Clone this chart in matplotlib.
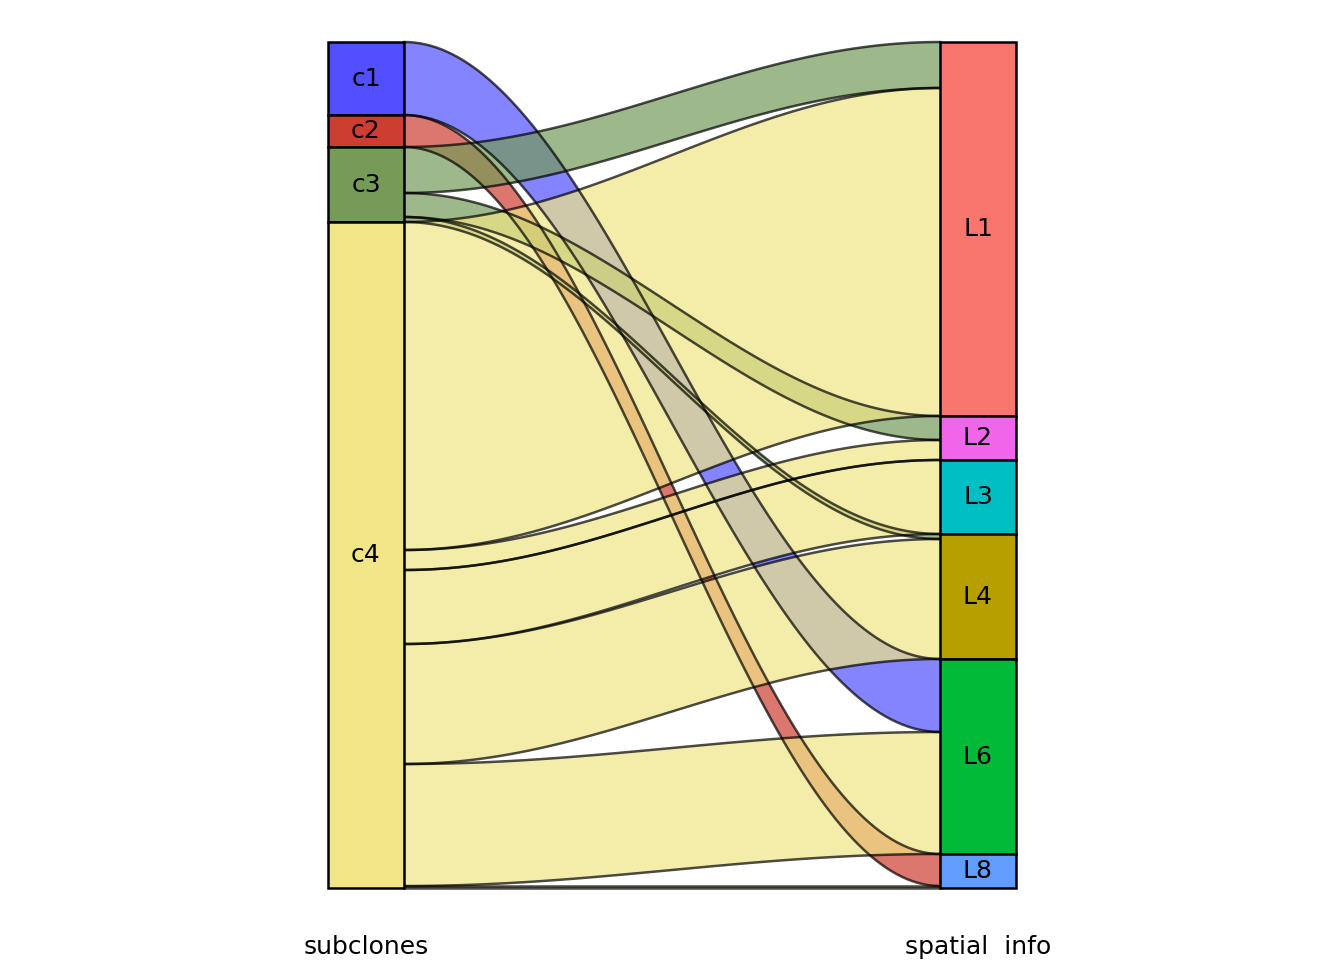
import matplotlib
matplotlib.use("Agg")
import matplotlib.pyplot as plt
import numpy as np
from matplotlib.patches import Rectangle, Polygon

subclones = ["c1", "c2", "c3", "c4"]
spatial = ["L1", "L2", "L3", "L4", "L6", "L8"]
sub_colors = ["#5050FF", "#CE3D32", "#749B58", "#F0E685"]
sp_colors = ["#F8766D", "#F066EA", "#00BFC4", "#B79F00", "#00BA38", "#619CFF"]
# flows: (source, target, count)
flows = [("c1", "L6", 73), ("c2", "L8", 32), ("c3", "L1", 46), ("c3", "L2", 24),
         ("c3", "L4", 5), ("c4", "L1", 328), ("c4", "L2", 20), ("c4", "L3", 74),
         ("c4", "L4", 120), ("c4", "L6", 122), ("c4", "L8", 2)]

fig = plt.figure(figsize=(13.44, 9.6), dpi=100)
ax = fig.add_axes([0, 0, 1, 1])
xl = 1 - 366 / 612
ax.set_xlim(xl, xl + 1344 / 612)
total = sum(f[2] for f in flows)
ax.set_ylim(-72, total + 42)
ax.axis("off")
w = 76 / 612 / 2

def tops(names, idx):
    sizes = {n: sum(f[2] for f in flows if f[idx] == n) for n in names}
    t, out = total, {}
    for n in names:
        out[n] = (t, sizes[n]); t -= sizes[n]
    return out

ls = tops(subclones, 0)
rs = tops(spatial, 1)
lcur = {n: ls[n][0] for n in subclones}
rcur = {n: rs[n][0] for n in spatial}
lpos, rpos = {}, {}
order_l = sorted(range(len(flows)), key=lambda i: (subclones.index(flows[i][0]), spatial.index(flows[i][1])))
for i in order_l:
    s, t, v = flows[i]
    lpos[i] = lcur[s]; lcur[s] -= v
order_r = sorted(range(len(flows)), key=lambda i: (spatial.index(flows[i][1]), subclones.index(flows[i][0])))
for i in order_r:
    s, t, v = flows[i]
    rpos[i] = rcur[t]; rcur[t] -= v

x0, x1 = 1 + w, 2 - w
xs = np.linspace(x0, x1, 100)
sm = (1 - np.cos(np.pi * (xs - x0) / (x1 - x0))) / 2
for i, (s, t, v) in enumerate(flows):
    ytop = lpos[i] + (rpos[i] - lpos[i]) * sm
    ybot = ytop - v
    col = sub_colors[subclones.index(s)]
    poly = np.vstack([np.column_stack([xs, ytop]), np.column_stack([xs[::-1], ybot[::-1]])])
    ax.add_patch(Polygon(poly, closed=True, facecolor=col, alpha=0.7, edgecolor="none", zorder=2))
    ax.plot(xs, ytop, color="black", alpha=0.7, lw=1.8, zorder=3)
    ax.plot(xs, ybot, color="black", alpha=0.7, lw=1.8, zorder=3)

for names, st, cols, xc in [(subclones, ls, sub_colors, 1), (spatial, rs, sp_colors, 2)]:
    for n, c in zip(names, cols):
        top, size = st[n]
        ax.add_patch(Rectangle((xc - w, top - size), 2 * w, size, facecolor=c,
                               edgecolor="black", lw=1.8, zorder=4))
        ax.text(xc, top - size / 2, n, ha="center", va="center", fontsize=18, zorder=5)

ax.text(1, -59, "subclones", ha="center", va="center", fontsize=18)
ax.text(2, -59, "spatial  info", ha="center", va="center", fontsize=18)
fig.savefig("out.png", dpi=100)
